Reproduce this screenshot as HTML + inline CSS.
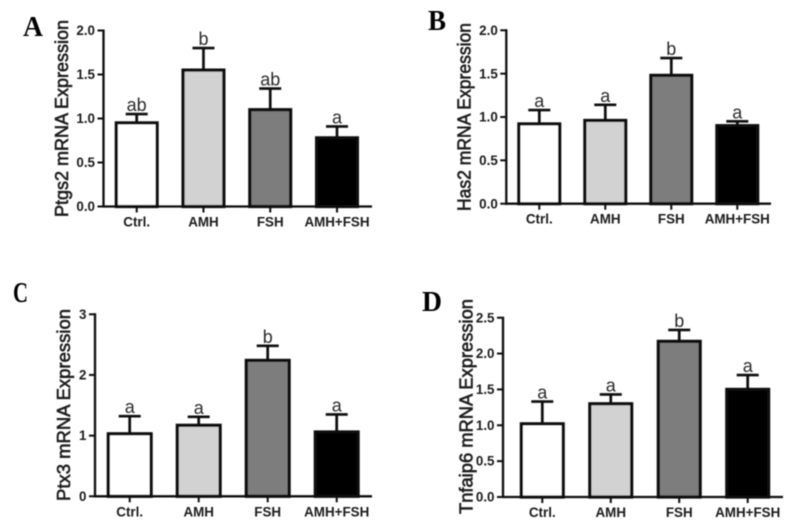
<!DOCTYPE html>
<html>
<head>
<meta charset="utf-8">
<title>mRNA expression bar charts</title>
<style>
html,body{margin:0;padding:0;background:#fff;}
svg{display:block;}
text{font-family:"Liberation Sans",sans-serif;fill:#1c1c1c;}
.tick{font-size:13.4px;font-weight:bold;}
.cat{font-size:13.4px;font-weight:bold;}
.ytitle{font-size:18px;stroke:#1c1c1c;stroke-width:.6px;}
.stat{font-size:18px;fill:#2c2c2c;}
.panel{font-family:"Liberation Serif",serif;font-size:28px;font-weight:bold;fill:#000;}
</style>
</head>
<body>
<svg id="fig" xmlns="http://www.w3.org/2000/svg" width="796" height="530" viewBox="0 0 796 530">
<defs><filter id="soft" x="-5%" y="-5%" width="110%" height="110%"><feGaussianBlur stdDeviation="0.45"/></filter></defs>
<rect width="796" height="530" fill="#fff"/>
<g id="root" filter="url(#soft)"></g>
</svg>
<script>
const categories = ["Ctrl.", "AMH", "FSH", "AMH+FSH"];

const ptgs2Means = [0.95, 1.55, 1.10, 0.78];
const ptgs2Tops = [1.05, 1.80, 1.34, 0.91];
const ptgs2Stats = ["ab", "b", "ab", "a"];
const ptgs2Ticks = ["0.0", "0.5", "1.0", "1.5", "2.0"];

const has2Means = [0.92, 0.96, 1.48, 0.90];
const has2Tops = [1.08, 1.14, 1.68, 0.95];
const has2Stats = ["a", "a", "b", "a"];
const has2Ticks = ["0.0", "0.5", "1.0", "1.5", "2.0"];

const ptx3Means = [1.03, 1.17, 2.24, 1.06];
const ptx3Tops = [1.32, 1.31, 2.48, 1.35];
const ptx3Stats = ["a", "a", "b", "a"];
const ptx3Ticks = ["0", "1", "2", "3"];

const tnfaip6Means = [1.02, 1.30, 2.17, 1.50];
const tnfaip6Tops = [1.33, 1.43, 2.33, 1.70];
const tnfaip6Stats = ["a", "a", "b", "a"];
const tnfaip6Ticks = ["0.0", "0.5", "1.0", "1.5", "2.0", "2.5"];

const barFills = ["#ffffff", "#d2d2d2", "#7d7d7d", "#000000"];

const NS = "http://www.w3.org/2000/svg";
const root = document.getElementById("root");

function make(parent, tag, attrs, txt) {
  const el = document.createElementNS(NS, tag);
  for (const k in attrs) el.setAttribute(k, attrs[k]);
  if (txt !== undefined) el.textContent = txt;
  parent.appendChild(el);
  return el;
}

function drawPanel(p) {
  const g = make(root, "g", {});
  
  

  const maxTick = parseFloat(p.ticks[p.ticks.length - 1]);
  const yScale = v => p.y0 - (v / maxTick) * (p.y0 - p.yTop);
  const n = categories.length;
  const xScale = i => p.firstX + i * (p.lastX - p.firstX) / (n - 1);
  const ink = "#0c0c0c";

  const letter = make(g, "text", {class: "panel", x: p.letterX, y: p.letterY, textLength: p.letterW, lengthAdjust: "spacingAndGlyphs"}, p.letter);
  
  

  const title = make(g, "text", {
    class: "ytitle",
    transform: "translate(" + p.titleX + "," + p.titleBottom + ") rotate(-90)",
    textLength: p.titleLen,
    lengthAdjust: "spacingAndGlyphs"
  }, p.title);
  
  

  p.means.forEach(function (m, i) {
    const cx = xScale(i);
    const top = yScale(m);
    const errTop = yScale(p.tops[i]);

    const stem = make(g, "line", {x1: cx, x2: cx, y1: top, y2: errTop, stroke: ink, "stroke-width": 2.7});
    
    

    const cap = make(g, "line", {x1: cx - 11, x2: cx + 11, y1: errTop, y2: errTop, stroke: ink, "stroke-width": 2.6});
    
    

    const bar = make(g, "rect", {
      x: cx - p.barW / 2 + 1.6, y: top,
      width: p.barW - 3.2, height: p.y0 - top,
      fill: barFills[i], stroke: ink, "stroke-width": 3.2
    });
    
    

    const stat = make(g, "text", {class: "stat", x: cx, y: errTop - 3, "text-anchor": "middle"}, p.stats[i]);
    
    

    const xt = make(g, "line", {x1: cx, x2: cx, y1: p.y0, y2: p.y0 + 6, stroke: ink, "stroke-width": 2});
    
    

    const lab = make(g, "text", {class: "cat", x: cx, y: p.y0 + 20, "text-anchor": "middle"}, categories[i]);
    
    
  });

  const yAxis = make(g, "line", {x1: p.axisX, x2: p.axisX, y1: p.yTop - 1, y2: p.y0 + 1, stroke: ink, "stroke-width": 2.3});
  
  

  const xAxis = make(g, "line", {x1: p.axisX - 1, x2: p.endX, y1: p.y0, y2: p.y0, stroke: ink, "stroke-width": 2.3});
  
  

  p.ticks.forEach(function (t) {
    const y = yScale(parseFloat(t));
    const tk = make(g, "line", {x1: p.axisX - 6, x2: p.axisX, y1: y, y2: y, stroke: ink, "stroke-width": 2});
    
    

    const tl = make(g, "text", {class: "tick", x: p.axisX - 8.5, y: y + 4.6, "text-anchor": "end"}, t);
    
    
  });
}

drawPanel({
  id: "ptgs2", letter: "A", letterX: 23, letterY: 36, letterW: 20,
  title: "Ptgs2 mRNA Expression", titleX: 68, titleBottom: 217, titleLen: 197,
  means: ptgs2Means, tops: ptgs2Tops, stats: ptgs2Stats, ticks: ptgs2Ticks,
  axisX: 103.5, endX: 372, y0: 206.5, yTop: 30.5, firstX: 136.7, lastX: 337, barW: 44
});
drawPanel({
  id: "has2", letter: "B", letterX: 428, letterY: 30, letterW: 18,
  title: "Has2 mRNA Expression", titleX: 470.7, titleBottom: 211, titleLen: 188,
  means: has2Means, tops: has2Tops, stats: has2Stats, ticks: has2Ticks,
  axisX: 506.3, endX: 771, y0: 203.7, yTop: 30.3, firstX: 539.3, lastX: 737.3, barW: 44
});
drawPanel({
  id: "ptx3", letter: "C", letterX: 13, letterY: 302, letterW: 15,
  title: "Ptx3 mRNA Expression", titleX: 70, titleBottom: 501, titleLen: 192,
  means: ptx3Means, tops: ptx3Tops, stats: ptx3Stats, ticks: ptx3Ticks,
  axisX: 95, endX: 372, y0: 496.3, yTop: 314.3, firstX: 129.7, lastX: 336.7, barW: 46
});
drawPanel({
  id: "tnfaip6", letter: "D", letterX: 422, letterY: 311, letterW: 20,
  title: "Tnfaip6 mRNA Expression", titleX: 472.7, titleBottom: 514, titleLen: 215,
  means: tnfaip6Means, tops: tnfaip6Tops, stats: tnfaip6Stats, ticks: tnfaip6Ticks,
  axisX: 503, endX: 783, y0: 497, yTop: 317.7, firstX: 542.3, lastX: 747.7, barW: 45
});
</script>
</body>
</html>
